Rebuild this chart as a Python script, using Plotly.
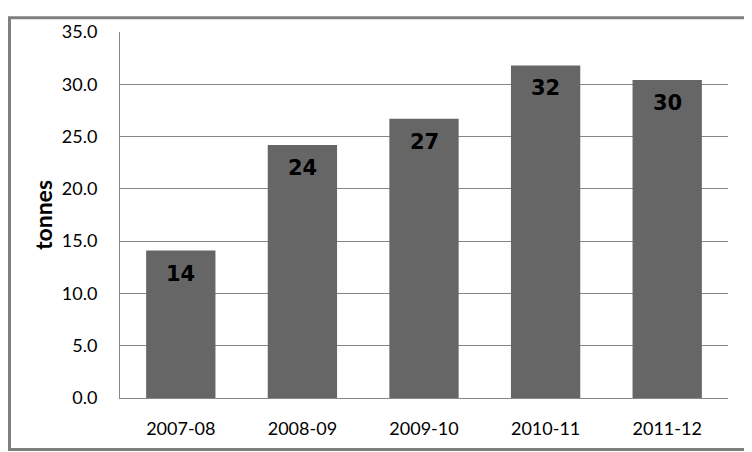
import plotly.graph_objects as go

# données
annees = ['2007-08', '2008-09', '2009-10', '2010-11', '2011-12']
tonnes = [14.1, 24.2, 26.7, 31.8, 30.4]
graduations = [0, 5, 10, 15, 20, 25, 30, 35]

# la page html a une marge de 8 px : on réduit la figure d'autant
W, H = 744, 444
marges = dict(l=112, r=24, t=16, b=54)

fig = go.Figure()
fig.add_trace(go.Bar(
    x=annees,
    y=tonnes,
    marker=dict(color='#666666', line=dict(width=0)),
    hoverinfo='x+y',
))

# étiquettes en gras dans le haut des barres
for a, v in zip(annees, tonnes):
    fig.add_annotation(
        x=a, y=v, text='<b>%d</b>' % round(v),
        showarrow=False, yanchor='top', yshift=-9,
        font=dict(family='DejaVu Sans', size=21, color='black'),
    )

# cadre gris autour de l'image
pw = W - marges['l'] - marges['r']
ph = H - marges['t'] - marges['b']
fig.add_shape(
    type='rect', xref='paper', yref='paper',
    x0=-(marges['l'] - 1.5) / pw, x1=1 + (marges['r'] - 1.5) / pw,
    y0=-(marges['b'] - 1.5) / ph, y1=1 + (marges['t'] - 1.5) / ph,
    line=dict(color='#7f7f7f', width=3),
)

fig.update_layout(
    width=W, height=H,
    margin=dict(marges, pad=0),
    plot_bgcolor='white', paper_bgcolor='white',
    bargap=0.43,
    showlegend=False,
    font=dict(family='Lato', size=18, color='black'),
)
fig.update_yaxes(
    range=[0, 35], tickvals=graduations, tickformat='.1f',
    showgrid=True, gridcolor='#868686', gridwidth=1,
    showline=True, linecolor='#868686', linewidth=1,
    ticks='', ticklabelstandoff=18,
    zeroline=False,
    title=dict(text='<b>tonnes</b>', standoff=2,
               font=dict(family='Lato', size=23, color='black')),
)
fig.update_xaxes(
    type='category',
    showline=True, linecolor='#868686', linewidth=1,
    ticks='', ticklabelstandoff=14,
)

fig.write_html("out.html")
